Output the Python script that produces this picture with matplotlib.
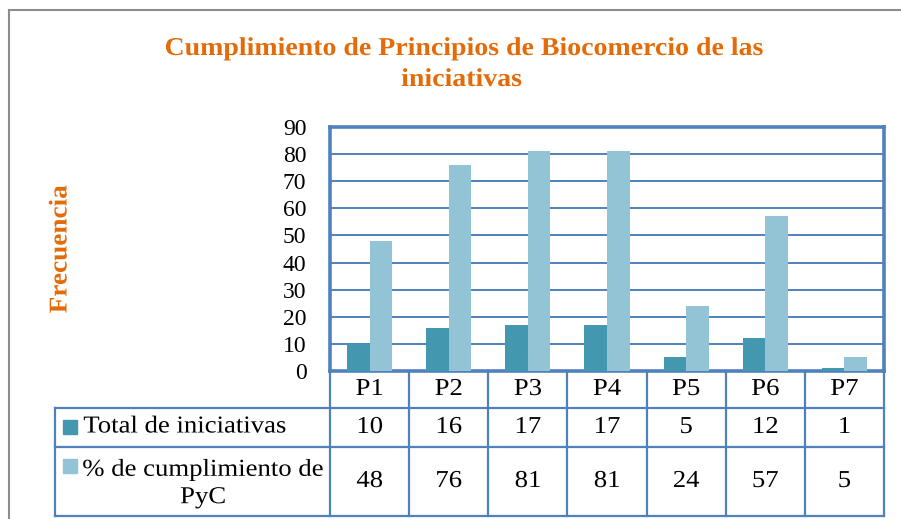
import numpy as np
import matplotlib
matplotlib.use("Agg")
import matplotlib.pyplot as plt
from matplotlib.lines import Line2D
from matplotlib.patches import Rectangle
from matplotlib.patheffects import AbstractPathEffect
import matplotlib.transforms as mtransforms

# data
principios = ["P1", "P2", "P3", "P4", "P5", "P6", "P7"]
total_iniciativas = [10, 16, 17, 17, 5, 12, 1]
pct_cumplimiento = [48, 76, 81, 81, 24, 57, 5]
serie_nombres = ["Total de iniciativas", "% de cumplimiento de\nPyC"]
yticks = list(range(0, 100, 10))

# colours
dark = "#4398AF"
light = "#93C4D5"
blue = "#4F81BD"
orange = "#E36C09"

plt.rcParams["font.family"] = ["Liberation Serif", "DejaVu Serif"]


class Stretch(AbstractPathEffect):
    # widens glyphs horizontally around the centre of each text line
    def __init__(self, sx):
        super().__init__()
        self.sx = sx

    def draw_path(self, renderer, gc, tpath, affine, rgbFace=None):
        v = tpath.vertices
        cx = (v[:, 0].min() + v[:, 0].max()) / 2 if len(v) else 0
        st = mtransforms.Affine2D().translate(-cx, 0).scale(self.sx, 1).translate(cx, 0)
        renderer.draw_path(gc, tpath, st + affine, rgbFace)


W, H = 901, 519
fig = plt.figure(figsize=(W / 100, H / 100), dpi=100)

# plot area in pixels
left, right, top, bottom = 330, 884, 127, 371
ax = fig.add_axes([left / W, 1 - bottom / H, (right - left) / W, (bottom - top) / H])

x = np.arange(len(principios))
bw = 0.286
ax.bar(x - bw / 2, total_iniciativas, width=bw, color=dark, zorder=3)
ax.bar(x + bw / 2, pct_cumplimiento, width=bw, color=light, zorder=3)

ax.set_xlim(-0.5, len(principios) - 0.5)
ax.set_ylim(0, 90)
ax.set_yticks(yticks)
ax.set_yticklabels([str(t) for t in yticks], fontsize=17)
ax.tick_params(axis="y", length=0, pad=17)
ax.set_xticks([])
ax.yaxis.grid(True, color=blue, linewidth=1.4, zorder=1)
for s in ax.spines.values():
    s.set_color(blue)
    s.set_linewidth(2.6)

# data table below the plot
plot_h = bottom - top
plot_w = right - left
row_y = [0, -(408 - bottom) / plot_h, -(447 - bottom) / plot_h, -(516 - bottom) / plot_h]
trans = mtransforms.blended_transform_factory(ax.transData, ax.transAxes)
tbl_left = (55 - left) / plot_w
wide = [Stretch(1.1)]
tfs = 17.5

line_kw = dict(color=blue, linewidth=1.6, clip_on=False, zorder=4)
# vertical separators for the category columns
for xb in np.arange(-0.5, len(principios), 1.0):
    ax.add_line(Line2D([xb, xb], [row_y[0], row_y[3]], transform=trans, **line_kw))
# horizontal lines
for ry in row_y[1:]:
    ax.add_line(Line2D([tbl_left, 1], [ry, ry], transform=ax.transAxes, **line_kw))
ax.add_line(Line2D([tbl_left, tbl_left], [row_y[1], row_y[3]], transform=ax.transAxes, **line_kw))

# header row with category labels
for i, p in enumerate(principios):
    ax.text(i, (row_y[0] + row_y[1]) / 2, p, transform=trans, ha="center", va="center",
            fontsize=tfs, path_effects=wide)

# value rows
name_x = [185, 203]
name_y = [427, 484]
key_y = [427, 466]
for r, (vals, col) in enumerate([(total_iniciativas, dark), (pct_cumplimiento, light)]):
    yc = (row_y[r + 1] + row_y[r + 2]) / 2
    for i, v in enumerate(vals):
        ax.text(i, yc, str(v), transform=trans, ha="center", va="center",
                fontsize=tfs, path_effects=wide)
    # legend key and series name
    ax.add_patch(Rectangle(((63 - left) / plot_w, -(key_y[r] + 7 - bottom) / plot_h),
                           14 / plot_w, 14 / plot_h,
                           transform=ax.transAxes, color=col, clip_on=False))
    ax.text((name_x[r] - left) / plot_w, -(name_y[r] - bottom) / plot_h, serie_nombres[r],
            transform=ax.transAxes, ha="center", va="center", fontsize=tfs,
            multialignment="center", linespacing=1.4, path_effects=wide)

# titles
title_fx = [Stretch(1.085)]
fig.text(465 / W, 1 - 55 / H, "Cumplimiento de Principios de Biocomercio de las",
         ha="center", va="baseline", fontsize=18.5, fontweight="bold", color=orange,
         path_effects=title_fx)
fig.text(462 / W, 1 - 86 / H, "iniciativas",
         ha="center", va="baseline", fontsize=18.5, fontweight="bold", color=orange,
         path_effects=title_fx)
fig.text(60 / W, 1 - 249 / H, "Frecuencia", rotation=90, ha="center", va="center",
         fontsize=18.5, fontweight="bold", color=orange, path_effects=[Stretch(1.06)])

# outer chart frame (only top and left edges visible)
fig.add_artist(Line2D([9 / W, 1], [1 - 10 / H, 1 - 10 / H], transform=fig.transFigure,
                      color="#8C8C8C", linewidth=1.5))
fig.add_artist(Line2D([9 / W, 9 / W], [0, 1 - 10 / H], transform=fig.transFigure,
                      color="#8C8C8C", linewidth=1.5))

fig.savefig("out.png", dpi=100)
